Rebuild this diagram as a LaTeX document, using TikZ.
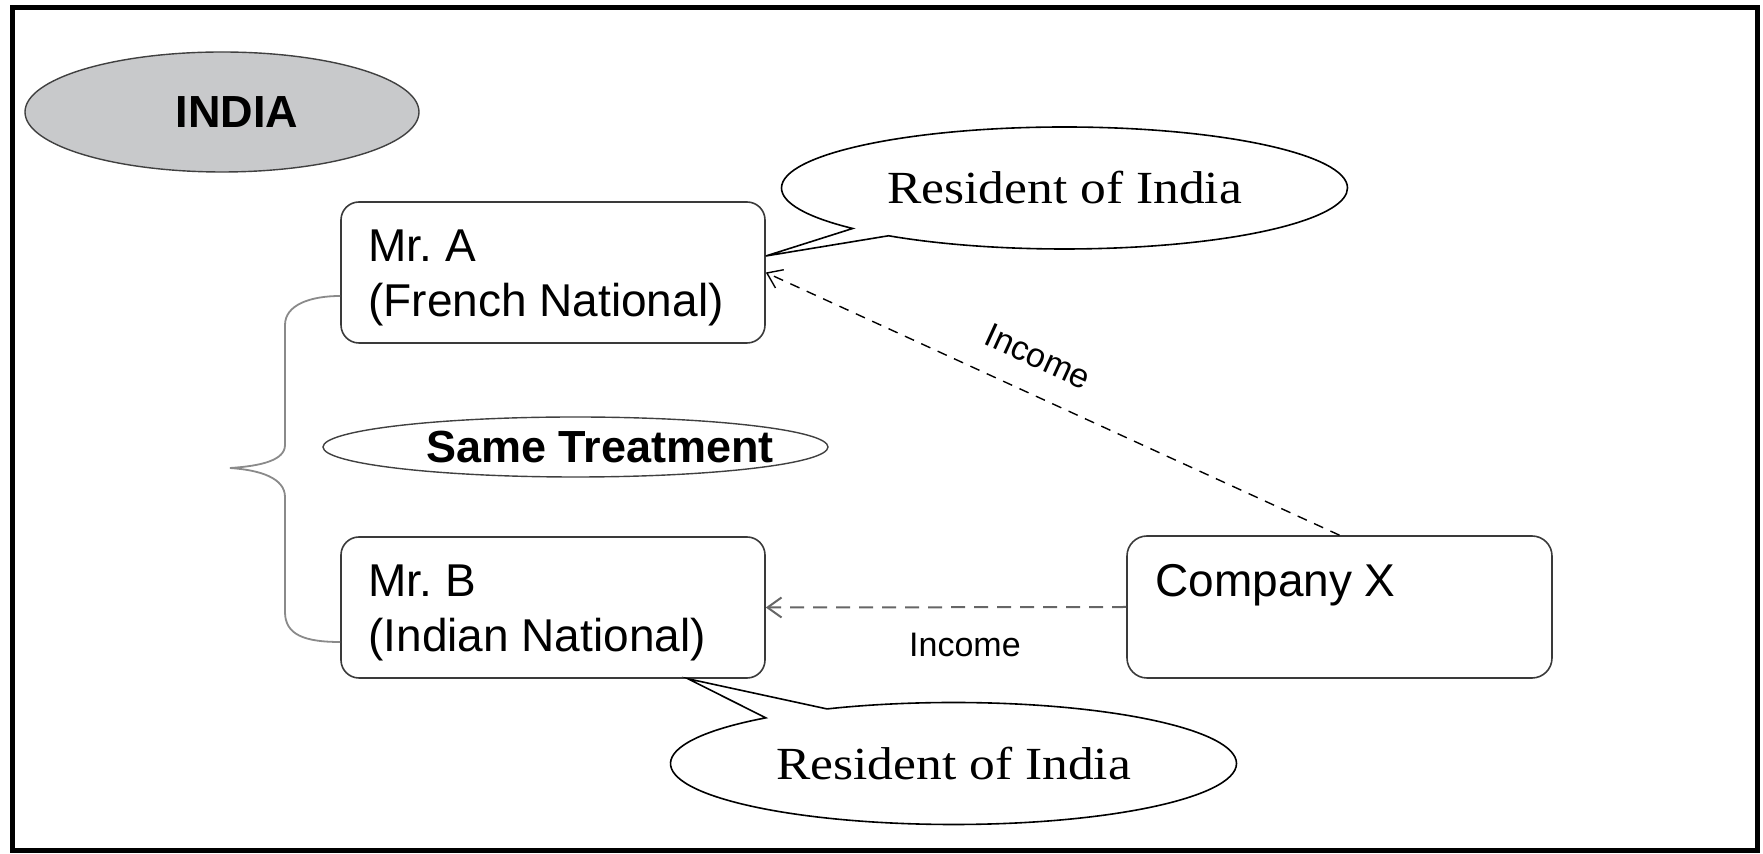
\documentclass[tikz,border=0pt]{standalone}
\usepackage{fontspec}
\setmainfont{Liberation Serif}
\setsansfont{Liberation Sans}
\newfontfamily\resfont[FakeStretch=1.12]{Liberation Serif}
\usetikzlibrary{shapes.geometric,shapes.callouts,arrows.meta,calc}
\definecolor{indiagray}{HTML}{C8C9CB}
\definecolor{linegray}{HTML}{666666}
\definecolor{bracegray}{HTML}{8A8A8A}
\definecolor{boxline}{HTML}{3A3A3A}
\frenchspacing
\begin{document}
\begin{tikzpicture}[x=0.5pt,y=-0.5pt,
  every node/.style={font=\sffamily},
  personbox/.style={draw=boxline, line width=0.8pt, rounded corners=9pt, minimum width=212pt, minimum height=70.5pt, inner sep=0pt},
  boxtext/.style={anchor=base west, inner sep=0pt, font=\sffamily\fontsize{23}{27.5}\selectfont},
  oval/.style={ellipse, draw=black!75, line width=0.7pt, inner sep=0pt, font=\sffamily\bfseries\fontsize{22.5}{27}\selectfont},
  resident/.style={ellipse callout, draw=black, line width=0.8pt, fill=white, inner sep=0pt, minimum width=283pt, minimum height=61pt, font=\resfont\fontsize{23}{27}\selectfont},
  flowA/.style={draw=black, line width=0.7pt, dash pattern=on 5pt off 4pt, -{Straight Barb[length=7pt,width=10pt]}},
  flowB/.style={draw=linegray, line width=1pt, dash pattern=on 7pt off 4.5pt, -{Straight Barb[length=7pt,width=10pt]}},
  incomelabel/.style={inner sep=0pt, font=\sffamily\fontsize{17}{20}\selectfont},
  brace/.style={draw=bracegray, line width=0.9pt}
]
\useasboundingbox (0,0) rectangle (1763,854);
\draw[line width=2.5pt] (12.5,7.5) rectangle (1757,850.5);

% INDIA
\node[oval, fill=indiagray, minimum width=197pt, minimum height=60pt] (india) at (222,112) {\makebox[0pt]{\hspace*{15pt}INDIA}};

% boxes
\node[personbox] (ma) at (553,272.5) {};
\node[boxtext] (maT) at (368,262) {\vtop{\hbox{Mr. A}\hbox{(French National)}}};
\node[personbox] (mb) at (553,607.5) {};
\node[boxtext] (mbT) at (368,597) {\vtop{\hbox{Mr. B}\hbox{(Indian National)}}};
\node[personbox, rounded corners=10pt, minimum width=212.5pt, minimum height=71pt] (cx) at (1339.5,607) {};
\node[boxtext] (cxT) at (1155,597) {Company X};

% same treatment
\node[oval, minimum width=252.5pt, minimum height=30pt] (same) at (575.5,447) {\makebox[0pt]{\hspace*{24.5pt}Same Treatment}};

% brace
\draw[brace] ($(ma.west)+(0,23.5)$) .. controls (310,296) and (285,305) .. (285,325)
  -- (285,445) .. controls (285,460) and (262,466) .. (230,468)
  .. controls (260,470) and (285,478) .. (285,497)
  -- (285,612) .. controls (285,635) and (305,642) .. ($(mb.west)+(0,34.5)$);

% flows
\draw[flowA] (cx.north) -- node[incomelabel, sloped, pos=0.552, yshift=18.4pt] (inc1) {Income} (ma.east);
\draw[flowB] (cx.west) -- node[incomelabel, pos=0.4475, yshift=-19pt] (inc2) {Income} (mb.east);

% callouts
\node[resident, callout absolute pointer={($(ma.east)+(0,-16.5)$)}, callout pointer arc=10] (resA) at (1064.5,188) {Resident of India};
\node[resident, callout absolute pointer={($(mb.south)+(135,0)$)}, callout pointer arc=15] (resB) at (953.5,763.5) {Resident of India};
\end{tikzpicture}
\end{document}
